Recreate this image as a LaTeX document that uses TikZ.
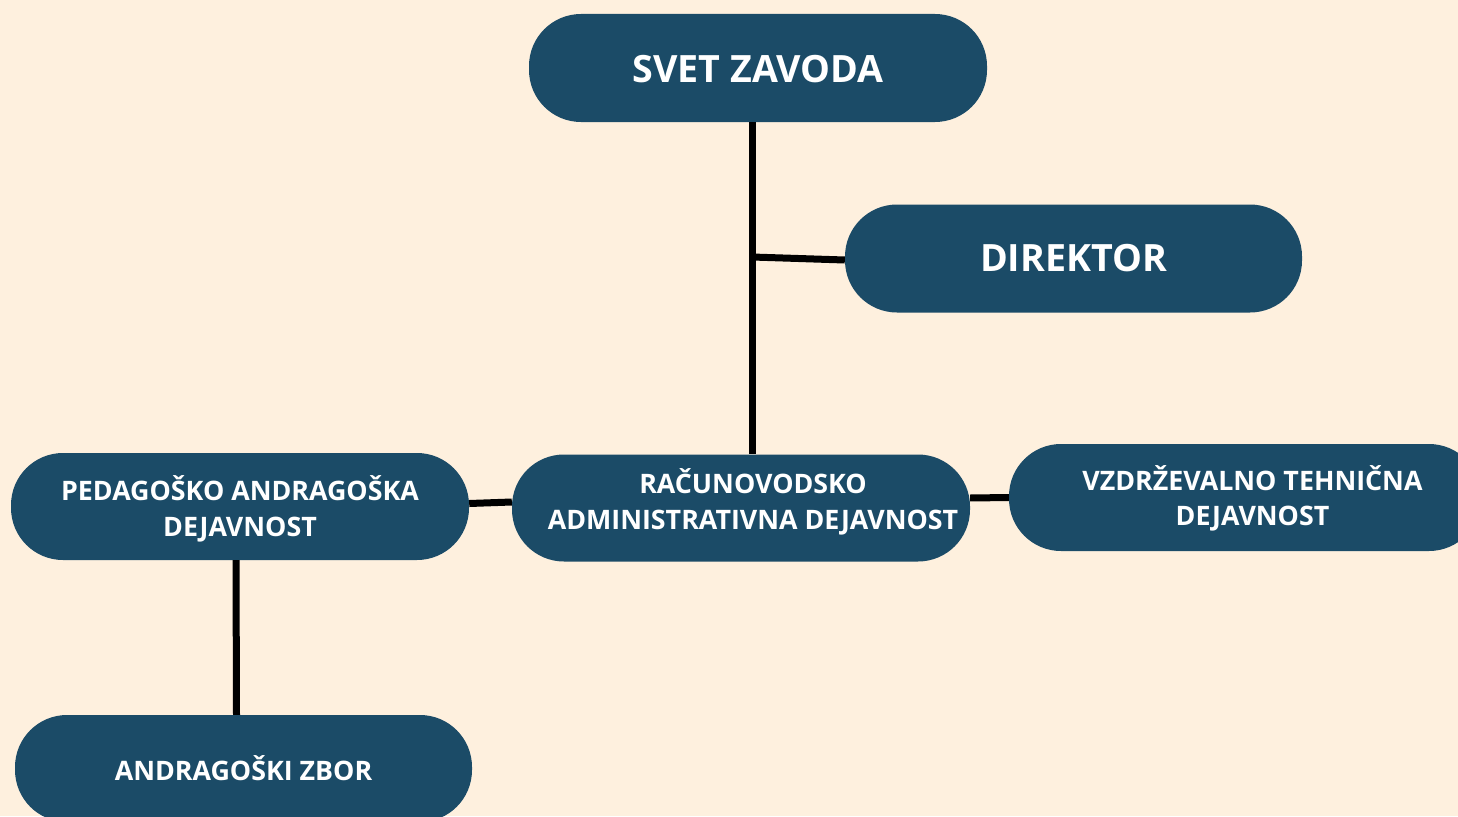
\documentclass[tikz,border=0pt]{standalone}
\usepackage{fontspec}
\setmainfont{Open Sans}
\definecolor{bg}{HTML}{FEF0DE}
\definecolor{pillc}{HTML}{1B4B67}
\tikzset{
  pill/.style={draw=none, fill=pillc, rounded corners=52pt, minimum height=107pt, inner sep=0pt},
  lbl/.style={text=white, font=\bfseries\fontsize{26.8}{35.5}\selectfont, align=center, inner sep=0pt},
  big/.style={text=white, font=\bfseries\fontsize{37.6}{44}\selectfont, align=center},
  conn/.style={draw=black, line width=7pt},
}
\begin{document}
\begin{tikzpicture}[x=1pt, y=-1pt]
\useasboundingbox (0,0) rectangle (1458,816);
\fill[bg] (0,0) rectangle (1458,816);
\clip (0,0) rectangle (1458,816);

\node[pill, minimum width=458pt, minimum height=108pt] (svet) at (758,68) {};
\node[big] (svett) at ([yshift=-1pt]svet.center) {SVET ZAVODA};
\node[pill, minimum width=457pt, minimum height=108pt, big] (dir) at (1073.5,258.5) {DIREKTOR};
\node[pill, minimum width=458pt] (ped) at (240,506.5) {};
\node[lbl] (pedt) at ([yshift=-2.5pt]ped.center) {PEDAGOŠKO ANDRAGOŠKA\\DEJAVNOST};
\node[pill, minimum width=458pt] (rac) at (741,508) {};
\node[lbl] (ract) at ([xshift=12pt,yshift=6pt]rac.center) {RAČUNOVODSKO\\ADMINISTRATIVNA DEJAVNOST};
\node[pill, minimum width=472pt] (vzd) at (1245,497.5) {};
\node[lbl] (vzdt) at ([xshift=7.5pt,yshift=-1pt]vzd.center) {VZDRŽEVALNO TEHNIČNA\\DEJAVNOST};
\node[pill, minimum width=457pt, lbl] (andr) at (243.5,768.5) {ANDRAGOŠKI ZBOR};

\coordinate (j) at (752,257);
\draw[conn] ([xshift=-6pt]svet.south) -- ([xshift=11pt]rac.north);
\draw[conn] (j) -- ([yshift=-1.5pt]dir.west);
\draw[conn] ([yshift=3pt]ped.east) -- ([yshift=6pt]rac.west);
\draw[conn] ([yshift=10pt]rac.east) -- (vzd.west);
\draw[conn] ([xshift=-4pt]ped.south) -- ([xshift=-7pt]andr.north);
\end{tikzpicture}
\end{document}
